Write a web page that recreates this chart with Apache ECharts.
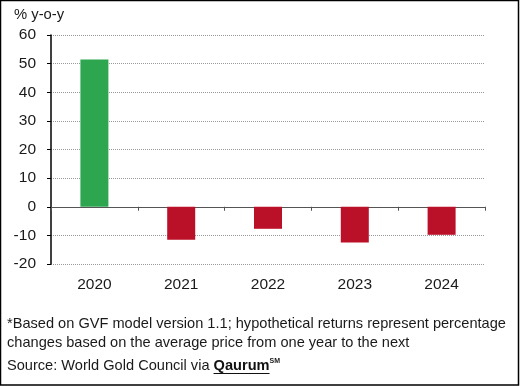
<!DOCTYPE html>
<html><head><meta charset="utf-8">
<script src="https://cdn.jsdelivr.net/npm/echarts@6/dist/echarts.min.js"></script>
<style>html,body{margin:0;padding:0;background:#fff}#c{width:524px;height:386px}</style>
</head><body><div id="c"></div>
<script>
const categories = ['2020', '2021', '2022', '2023', '2024'];
const returns = [51.4, -11.5, -7.7, -12.5, -9.8];
const yTicks = { min: -20, max: 60, interval: 10 };
const GREEN = '#2ea650', RED = '#bb1128';
const font = 'Liberation Sans, Arial, sans-serif';
const TXT = '#1a1a1a';
const FS = 14.6;
const srcPrefix = 'Source: World Gold Council via ';
const brand = 'Qaurum';
const mctx = document.createElement('canvas').getContext('2d');
mctx.font = FS + 'px ' + font;
const prefW = mctx.measureText(srcPrefix).width;
mctx.font = 'bold ' + FS + 'px ' + font;
const brandW = mctx.measureText(brand).width;
const SRC_LEFT = 7, SRC_TOP = 358;
const chart = echarts.init(document.getElementById('c'), null, { renderer: 'canvas' });
chart.setOption({
  animation: false,
  backgroundColor: '#fff',
  grid: { left: 51, right: 39, top: 35, bottom: 122 },
  xAxis: [
    { type: 'category', data: categories, axisLine: { onZero: true, lineStyle: { color: '#555', width: 1 } },
      axisTick: { show: true, length: 4, lineStyle: { color: '#555' } }, axisLabel: { show: false }, splitLine: { show: false } },
    { type: 'category', data: categories, position: 'bottom', axisLine: { show: false, onZero: false }, axisTick: { show: false },
      axisLabel: { margin: 13, color: TXT, fontSize: 15.5, fontFamily: font }, splitLine: { show: false } }
  ],
  yAxis: {
    type: 'value', min: yTicks.min, max: yTicks.max, interval: yTicks.interval,
    axisLine: { show: true, lineStyle: { color: '#000', width: 1.5 } },
    axisTick: { show: true, length: 4, inside: false, lineStyle: { color: '#000' } },
    axisLabel: { margin: 15, color: TXT, fontSize: 15.5, fontFamily: font },
    splitLine: { show: true, lineStyle: { color: '#999', type: [1, 1], width: 1 } }
  },
  series: [{
    type: 'bar', xAxisIndex: 0, barWidth: 28,
    data: returns.map(v => ({ value: v, itemStyle: { color: v >= 0 ? GREEN : RED } }))
  }],
  graphic: [
    { type: 'rect', shape: { x: 0.5, y: 0.5, width: 518, height: 384.5 }, style: { fill: null, stroke: '#000', lineWidth: 1.5 }, silent: true },
    { type: 'text', left: 14, top: 7, style: { text: '% y-o-y', fontSize: 14.8, fontFamily: font, fill: TXT } },
    { type: 'text', left: 7, top: 316, style: { text: '*Based on GVF model version 1.1; hypothetical returns represent percentage', fontSize: FS, fontFamily: font, fill: TXT } },
    { type: 'text', left: 7, top: 335, style: { text: 'changes based on the average price from one year to the next', fontSize: FS, fontFamily: font, fill: TXT } },
    { type: 'text', left: SRC_LEFT, top: SRC_TOP, style: {
      text: srcPrefix + '{b|' + brand + '}{s|SM}', fontSize: FS, fontFamily: font, fill: TXT,
      rich: { b: { fontWeight: 'bold', fontSize: FS, fontFamily: font, fill: '#111' }, s: { fontWeight: 'bold', fontSize: 7, fontFamily: font, verticalAlign: 'top', padding: [0, 0, 9, 0] } } } },
    { type: 'line', shape: { x1: SRC_LEFT + prefW, y1: 373.5, x2: SRC_LEFT + prefW + brandW, y2: 373.5 }, style: { stroke: '#111', lineWidth: 1 } }
  ]
});
</script></body></html>
